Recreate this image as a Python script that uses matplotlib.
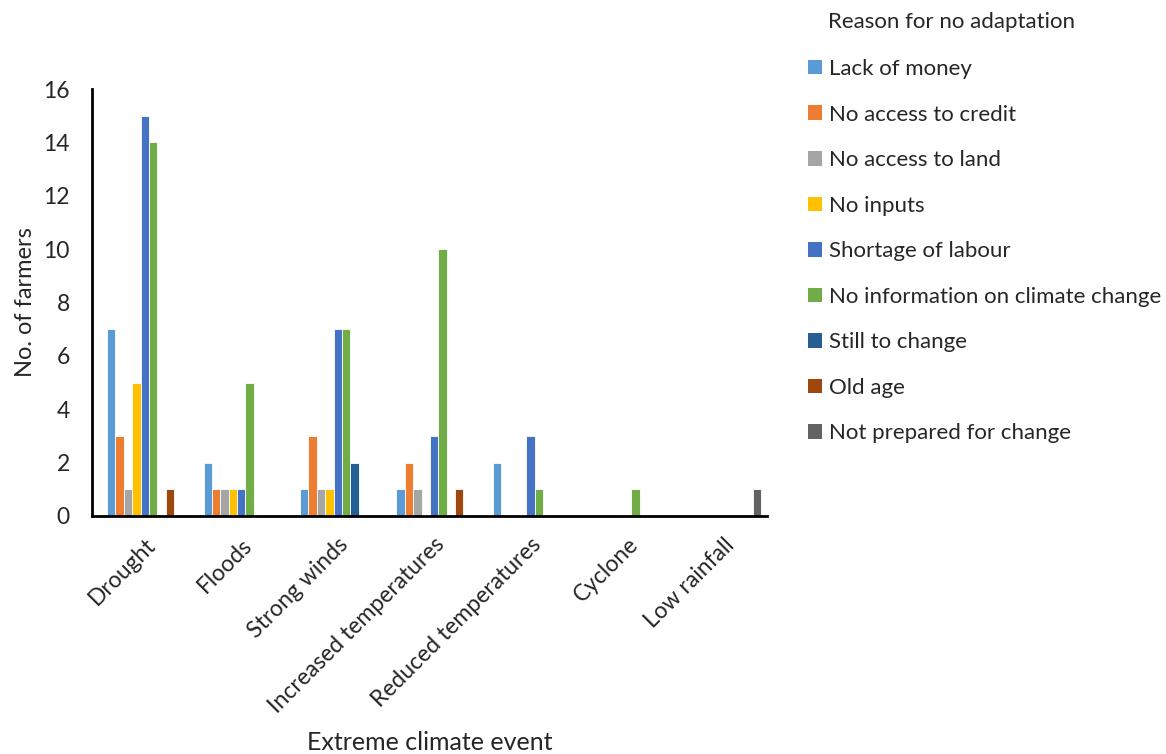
import matplotlib
matplotlib.use("Agg")
import matplotlib.pyplot as plt
import numpy as np
from matplotlib.patches import Patch

plt.rcParams['font.family'] = ['Lato', 'DejaVu Sans']

events = ['Drought', 'Floods', 'Strong winds', 'Increased temperatures',
          'Reduced temperatures', 'Cyclone', 'Low rainfall']
reasons = ['Lack of money', 'No access to credit', 'No access to land',
           'No inputs', 'Shortage of labour', 'No information on climate change',
           'Still to change', 'Old age', 'Not prepared for change']

lack_money = [7, 2, 1, 1, 2, 0, 0]
no_credit = [3, 1, 3, 2, 0, 0, 0]
no_land = [1, 1, 1, 1, 0, 0, 0]
no_inputs = [5, 1, 1, 0, 0, 0, 0]
labour = [15, 1, 7, 3, 3, 0, 0]
no_info = [14, 5, 7, 10, 1, 1, 0]
still_change = [0, 0, 2, 0, 0, 0, 0]
old_age = [1, 0, 0, 1, 0, 0, 0]
not_prepared = [0, 0, 0, 0, 0, 0, 1]

series = [lack_money, no_credit, no_land, no_inputs, labour, no_info,
          still_change, old_age, not_prepared]
colours = ['#5B9BD5', '#ED7D31', '#A5A5A5', '#FFC000', '#4472C4',
           '#70AD47', '#255E91', '#9E480E', '#636363']
txt = '#262626'

W, H = 1166, 754
fig = plt.figure(figsize=(W / 100, H / 100), dpi=100)
ax = fig.add_axes([92 / W, 1 - 516 / H, (767 - 92) / W, (516 - 89) / H])

x = np.arange(len(events))
slot = 0.0868
for i, (vals, c) in enumerate(zip(series, colours)):
    ax.bar(x + (i - 4) * slot, vals, width=slot, color=c,
           edgecolor='white', linewidth=0.6, label=reasons[i])

ax.set_xlim(-0.547, 6.45)
ax.set_ylim(0, 16)
ax.set_yticks(range(0, 17, 2))
ax.set_xticks(x)
ax.set_xticklabels(events, rotation=45, ha='right', rotation_mode='anchor',
                   fontsize=16.5, color=txt)
ax.tick_params(axis='x', length=0, pad=13)
ax.tick_params(axis='y', length=0, labelsize=16.5, labelcolor=txt, pad=16)
for s in ['top', 'right']:
    ax.spines[s].set_visible(False)
ax.spines['left'].set_linewidth(2)
ax.spines['bottom'].set_linewidth(2)

ax.set_ylabel('No. of farmers', fontsize=17, color=txt, labelpad=5)
fig.text(430 / W, 1 - 743 / H, 'Extreme climate event', fontsize=18,
         color=txt, ha='center', va='center')

# legend title placed by hand so it lines up with the entry texts
fig.text(828 / W, 1 - 22 / H, 'Reason for no adaptation', fontsize=16,
         color=txt, ha='left', va='center')
handles = [Patch(facecolor=c, edgecolor='none') for c in colours]
leg = fig.legend(handles, reasons, loc='upper left',
                 bbox_to_anchor=(808 / W, 1 - 59 / H), frameon=False,
                 fontsize=16, borderpad=0, borderaxespad=0,
                 handlelength=0.63, handleheight=0.63,
                 handletextpad=0.32, labelspacing=1.15)
for t in leg.get_texts():
    t.set_color(txt)

fig.savefig('out.png', dpi=100)
